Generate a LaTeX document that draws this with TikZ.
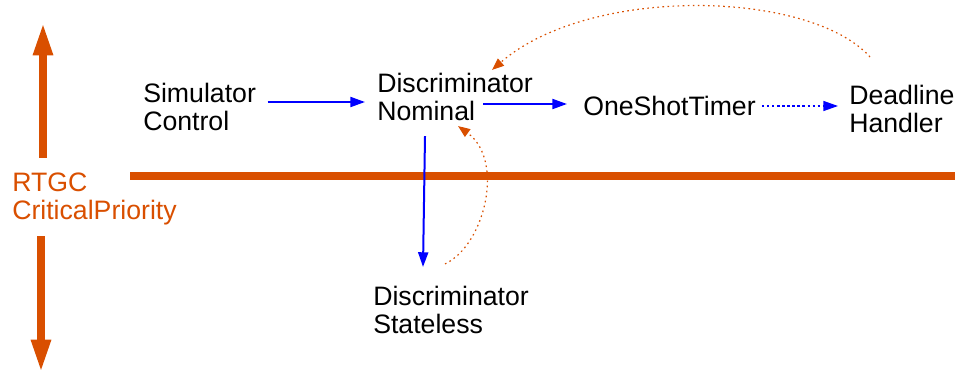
\documentclass[tikz,border=0pt]{standalone}
\usepackage{fontspec}
\setmainfont{Liberation Sans}
\usepackage{xcolor}
\usepackage{tikz}
\usetikzlibrary{arrows.meta, positioning}
\definecolor{rtgcorange}{RGB}{217,79,0}
\tikzset{
    task/.style = {inner sep = 0pt, align = left, anchor = west, font = \fontsize{20}{21}\selectfont},
    prio/.style = {task, text = rtgcorange},
    call/.style = {draw = blue, line width = 1.5pt, -{Triangle[length = 11pt, width = 7.5pt]}},
    async/.style = {call, line width = 1pt, dash pattern = on 1.8pt off 2pt},
    release/.style = {draw = rtgcorange, line width = 0.9pt, dash pattern = on 1.2pt off 2.6pt, -{Triangle[length = 9pt, width = 7pt]}},
    level/.style = {draw = rtgcorange, line width = 6pt, -{Triangle[length = 25pt, width = 13.5pt]}},
    divider/.style = {draw = rtgcorange, line width = 6pt}
}

\begin{document}
\begin{tikzpicture}[x = 0.75pt, y = -0.75pt]
        \useasboundingbox (0,0) rectangle (955,375);
        % threads above the line
        \node [task] (sc) at (143,107) {Simulator\\Control};
        \node [task] (dn) at (377,97) {Discriminator\\Nominal};
        \node [task] (ot) at (583,106) {OneShotTimer};
        \node [task] (dh) at (849,109) {Deadline\\Handler};
        % thread below the line
        \node [task] (ds) at (373,310) {Discriminator\\Stateless};
        % priority label
        \node [prio] (rt) at (12,199) {RTGC\\CriticalPriority};
        \coordinate (up) at (43,22);
        \coordinate (down) at (41,373);
        \coordinate (lineL) at (130,176);
        \coordinate (lineR) at (955,176);
        \draw [divider] (lineL) -- (lineR);
        \draw [level] ([xshift = 23.25pt, yshift = 11.25pt]rt.north west) -- (up);
        \draw [level] ([xshift = 21.75pt, yshift = -8.25pt]rt.south west) -- (down);
        % calls
        \draw [call] ([xshift = 8.5pt, yshift = 3.75pt]sc.east) -- ([xshift = -9pt, yshift = -3.75pt]dn.west);
        \draw [call] ([xshift = 79.5pt, yshift = -5.25pt]dn.west) -- ([xshift = -12pt, yshift = 1.5pt]ot.west);
        \draw [async] ([xshift = 4.5pt]ot.east) -- ([xshift = -8.25pt, yshift = 2.25pt]dh.west);
        \draw [call] ([xshift = 36pt, yshift = -11.25pt]dn.south west) -- ([xshift = 37.5pt, yshift = 14.25pt]ds.north west);
        % returns
        \draw [release] ([xshift = 54pt, yshift = 16.5pt]ds.north west) .. controls (485,245) and (505,160) .. ([xshift = 60.75pt, yshift = -3.75pt]dn.south west);
        \draw [release] ([xshift = 15.75pt, yshift = 21pt]dh.north west) .. controls (810,-10) and (590,-15) .. ([xshift = 86.25pt, yshift = 2.25pt]dn.north west);
    \end{tikzpicture}
\end{document}
